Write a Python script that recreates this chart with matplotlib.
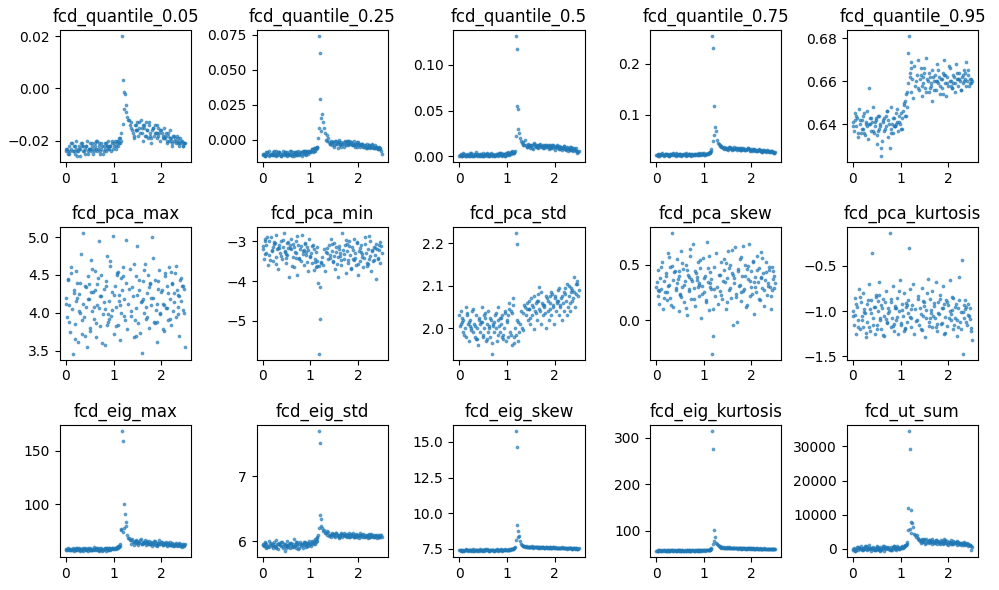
import matplotlib
matplotlib.use("Agg")
import matplotlib.pyplot as plt

# shared parameter sweep (x axis of every panel); second block = extra samples
x = [
    0.00, 0.03, 0.04, 0.07, 0.08, 0.11, 0.13, 0.14, 0.17, 0.19,
    0.21, 0.22, 0.25, 0.27, 0.29, 0.30, 0.33, 0.35, 0.36, 0.39,
    0.41, 0.43, 0.44, 0.47, 0.49, 0.51, 0.52, 0.55, 0.57, 0.59,
    0.60, 0.63, 0.65, 0.66, 0.69, 0.71, 0.73, 0.74, 0.77, 0.79,
    0.81, 0.82, 0.85, 0.87, 0.89, 0.90, 0.93, 0.95, 0.97, 0.99,
    1.01, 1.03, 1.05, 1.07, 1.09, 1.11, 1.13, 1.15, 1.16, 1.18,
    1.20, 1.21, 1.23, 1.25, 1.27, 1.29, 1.31, 1.34, 1.37, 1.39,
    1.41, 1.43, 1.46, 1.48, 1.50, 1.52, 1.54, 1.57, 1.59, 1.61,
    1.63, 1.65, 1.67, 1.70, 1.72, 1.74, 1.76, 1.78, 1.81, 1.83,
    1.85, 1.87, 1.89, 1.92, 1.94, 1.96, 1.98, 2.00, 2.03, 2.05,
    2.07, 2.09, 2.11, 2.14, 2.16, 2.18, 2.20, 2.22, 2.25, 2.27,
    2.29, 2.31, 2.33, 2.36, 2.38, 2.40, 2.42, 2.44, 2.47, 2.50,
    0.01, 0.06, 0.10, 0.16, 0.20, 0.24, 0.28, 0.32, 0.38, 0.42,
    0.46, 0.50, 0.54, 0.58, 0.62, 0.64, 0.68, 0.72, 0.76, 0.80,
    0.84, 0.88, 0.92, 0.96, 1.00, 1.04, 1.08, 1.12, 0.05, 0.34,
    0.53, 0.70, 0.91, 1.10, 0.23, 0.48, 0.86, 1.14, 1.19, 1.22,
    1.33, 1.36, 1.42, 1.45, 1.49, 1.53, 1.56, 1.60, 1.64, 1.68,
    1.71, 1.75, 1.79, 1.82, 1.86, 1.90, 1.93, 1.97, 2.01, 2.04,
    2.08, 2.12, 2.15, 2.19, 2.23, 2.26, 2.30, 2.34, 2.37, 2.41,
    2.45, 2.48, 1.47, 1.62, 1.77, 1.91, 2.06, 2.21, 2.35, 2.46,
]

fcd_quantile_005 = [
    -0.024, -0.023, -0.025, -0.022, -0.024, -0.023, -0.021, -0.024, -0.022, -0.025,
    -0.023, -0.020, -0.024, -0.022, -0.026, -0.023, -0.021, -0.024, -0.022, -0.023,
    -0.025, -0.022, -0.020, -0.024, -0.023, -0.021, -0.024, -0.022, -0.025, -0.023,
    -0.021, -0.023, -0.024, -0.020, -0.022, -0.024, -0.023, -0.021, -0.025, -0.022,
    -0.023, -0.021, -0.024, -0.022, -0.020, -0.023, -0.022, -0.024, -0.021, -0.023,
    -0.022, -0.020, -0.023, -0.021, -0.022, -0.019, -0.021, -0.017, -0.020, 0.020,
    0.0034, -0.0015, -0.002, -0.009, -0.0065, -0.011, -0.012, -0.014, -0.013, -0.016,
    -0.017, -0.019, -0.014, -0.016, -0.013, -0.018, -0.015, -0.012, -0.017, -0.020,
    -0.015, -0.018, -0.013, -0.016, -0.019, -0.014, -0.017, -0.021, -0.016, -0.015,
    -0.018, -0.014, -0.017, -0.019, -0.015, -0.017, -0.020, -0.016, -0.018, -0.015,
    -0.019, -0.017, -0.021, -0.018, -0.020, -0.016, -0.019, -0.022, -0.018, -0.020,
    -0.019, -0.021, -0.018, -0.020, -0.022, -0.019, -0.021, -0.020, -0.021, -0.021,
    -0.023, -0.025, -0.021, -0.024, -0.022, -0.026, -0.023, -0.021, -0.024, -0.022,
    -0.025, -0.023, -0.021, -0.024, -0.022, -0.020, -0.023, -0.025, -0.022, -0.024,
    -0.021, -0.023, -0.022, -0.020, -0.021, -0.022, -0.020, -0.021, -0.024, -0.022,
    -0.023, -0.021, -0.022, -0.020, -0.024, -0.023, -0.022, -0.019, -0.0136, -0.008,
    -0.012, -0.015, -0.018, -0.014, -0.016, -0.013, -0.017, -0.015, -0.014, -0.018,
    -0.016, -0.013, -0.019, -0.015, -0.017, -0.014, -0.018, -0.016, -0.017, -0.019,
    -0.018, -0.020, -0.017, -0.019, -0.021, -0.018, -0.020, -0.019, -0.021, -0.020,
    -0.022, -0.021, -0.016, -0.014, -0.018, -0.017, -0.019, -0.020, -0.021, -0.022,
]

fcd_quantile_025 = [
    -0.011, -0.010, -0.012, -0.009, -0.011, -0.010, -0.008, -0.012, -0.010, -0.011,
    -0.009, -0.011, -0.010, -0.012, -0.008, -0.010, -0.011, -0.009, -0.010, -0.012,
    -0.010, -0.008, -0.011, -0.009, -0.010, -0.012, -0.009, -0.011, -0.010, -0.008,
    -0.011, -0.009, -0.010, -0.012, -0.009, -0.011, -0.010, -0.008, -0.011, -0.009,
    -0.010, -0.012, -0.009, -0.010, -0.008, -0.011, -0.009, -0.010, -0.008, -0.009,
    -0.008, -0.007, -0.009, -0.006, -0.008, -0.007, -0.006, -0.005, 0.001, 0.074,
    0.0617, 0.029, 0.0156, 0.0185, 0.0127, 0.0084, 0.0048, 0.003, 0.001, -0.002,
    -0.003, -0.001, -0.004, -0.002, -0.005, -0.001, -0.003, -0.006, -0.002, 0.000,
    -0.004, -0.002, -0.003, -0.005, -0.001, -0.003, -0.002, -0.004, -0.001, -0.003,
    -0.002, -0.004, -0.003, -0.001, -0.005, -0.003, -0.002, -0.004, -0.003, -0.005,
    -0.004, -0.003, -0.005, -0.004, -0.006, -0.003, -0.005, -0.004, -0.006, -0.005,
    -0.004, -0.006, -0.005, -0.004, -0.006, -0.005, -0.007, -0.005, -0.007, -0.010,
    -0.010, -0.012, -0.009, -0.011, -0.010, -0.008, -0.011, -0.009, -0.012, -0.010,
    -0.009, -0.011, -0.010, -0.008, -0.012, -0.010, -0.009, -0.011, -0.010, -0.009,
    -0.008, -0.010, -0.009, -0.008, -0.009, -0.007, -0.008, -0.006, -0.011, -0.009,
    -0.010, -0.009, -0.008, -0.006, -0.011, -0.010, -0.008, -0.005, 0.008, 0.006,
    0.000, -0.001, -0.003, -0.002, -0.004, -0.001, -0.003, -0.002, -0.005, -0.003,
    -0.002, -0.004, -0.001, -0.003, -0.002, -0.004, -0.003, -0.005, -0.002, -0.004,
    -0.003, -0.005, -0.004, -0.006, -0.004, -0.005, -0.003, -0.006, -0.005, -0.007,
    -0.006, -0.008, -0.002, -0.003, -0.001, -0.004, -0.003, -0.005, -0.006, -0.006,
]

fcd_quantile_05 = [
    0.001, 0.003, 0.000, 0.002, 0.004, 0.001, 0.002, 0.000, 0.003, 0.002,
    0.001, 0.004, 0.002, 0.000, 0.003, 0.001, 0.002, 0.005, 0.001, 0.003,
    0.002, 0.000, 0.003, 0.001, 0.004, 0.002, 0.001, 0.003, 0.000, 0.002,
    0.003, 0.001, 0.002, 0.004, 0.001, 0.003, 0.002, 0.000, 0.002, 0.003,
    0.001, 0.003, 0.002, 0.004, 0.001, 0.002, 0.003, 0.001, 0.004, 0.002,
    0.003, 0.005, 0.002, 0.004, 0.003, 0.006, 0.004, 0.004, 0.006, 0.131,
    0.117, 0.055, 0.052, 0.025, 0.020, 0.017, 0.015, 0.012, 0.018, 0.013,
    0.010, 0.014, 0.011, 0.009, 0.013, 0.012, 0.008, 0.015, 0.011, 0.010,
    0.013, 0.009, 0.012, 0.014, 0.010, 0.011, 0.013, 0.009, 0.012, 0.010,
    0.011, 0.008, 0.012, 0.010, 0.013, 0.009, 0.011, 0.007, 0.010, 0.012,
    0.009, 0.011, 0.008, 0.010, 0.007, 0.009, 0.011, 0.008, 0.010, 0.006,
    0.008, 0.010, 0.007, 0.009, 0.006, 0.008, 0.007, 0.009, 0.004, 0.006,
    0.002, 0.001, 0.003, 0.000, 0.002, 0.004, 0.001, 0.003, 0.002, 0.000,
    0.003, 0.001, 0.002, 0.004, 0.001, 0.003, 0.002, 0.001, 0.003, 0.002,
    0.004, 0.002, 0.003, 0.001, 0.004, 0.003, 0.005, 0.004, 0.001, 0.002,
    0.003, 0.002, 0.003, 0.005, 0.001, 0.002, 0.004, 0.005, 0.022, 0.030,
    0.016, 0.012, 0.010, 0.013, 0.011, 0.009, 0.014, 0.012, 0.010, 0.013,
    0.011, 0.009, 0.012, 0.010, 0.013, 0.011, 0.009, 0.012, 0.010, 0.011,
    0.008, 0.010, 0.009, 0.011, 0.007, 0.009, 0.008, 0.010, 0.007, 0.009,
    0.006, 0.005, 0.012, 0.010, 0.011, 0.009, 0.010, 0.008, 0.007, 0.006,
]

fcd_quantile_075 = [
    0.020, 0.022, 0.019, 0.023, 0.021, 0.020, 0.024, 0.021, 0.019, 0.022,
    0.023, 0.020, 0.022, 0.018, 0.021, 0.023, 0.020, 0.022, 0.024, 0.021,
    0.019, 0.022, 0.021, 0.023, 0.020, 0.022, 0.019, 0.021, 0.023, 0.020,
    0.022, 0.024, 0.021, 0.020, 0.023, 0.021, 0.022, 0.019, 0.021, 0.023,
    0.020, 0.022, 0.021, 0.023, 0.024, 0.021, 0.022, 0.020, 0.023, 0.022,
    0.024, 0.021, 0.023, 0.022, 0.025, 0.024, 0.026, 0.028, 0.032, 0.254,
    0.231, 0.117, 0.076, 0.068, 0.050, 0.045, 0.042, 0.040, 0.038, 0.036,
    0.034, 0.037, 0.033, 0.035, 0.031, 0.036, 0.034, 0.032, 0.035, 0.033,
    0.036, 0.032, 0.034, 0.031, 0.035, 0.033, 0.030, 0.034, 0.032, 0.035,
    0.031, 0.033, 0.030, 0.034, 0.032, 0.029, 0.033, 0.031, 0.030, 0.032,
    0.029, 0.031, 0.028, 0.030, 0.032, 0.029, 0.031, 0.027, 0.030, 0.028,
    0.029, 0.027, 0.030, 0.028, 0.026, 0.029, 0.027, 0.028, 0.025, 0.027,
    0.021, 0.019, 0.022, 0.020, 0.023, 0.021, 0.019, 0.022, 0.020, 0.024,
    0.021, 0.023, 0.020, 0.022, 0.019, 0.021, 0.023, 0.020, 0.022, 0.021,
    0.023, 0.020, 0.022, 0.024, 0.021, 0.023, 0.022, 0.025, 0.020, 0.022,
    0.021, 0.023, 0.022, 0.024, 0.020, 0.021, 0.023, 0.027, 0.048, 0.060,
    0.039, 0.036, 0.033, 0.035, 0.032, 0.034, 0.036, 0.031, 0.033, 0.035,
    0.032, 0.034, 0.031, 0.033, 0.030, 0.032, 0.034, 0.031, 0.029, 0.032,
    0.030, 0.028, 0.031, 0.029, 0.027, 0.030, 0.028, 0.029, 0.026, 0.028,
    0.027, 0.025, 0.035, 0.033, 0.031, 0.032, 0.030, 0.029, 0.028, 0.026,
]

fcd_quantile_095 = [
    0.641, 0.637, 0.645, 0.639, 0.643, 0.634, 0.647, 0.640, 0.636, 0.642,
    0.638, 0.644, 0.635, 0.641, 0.639, 0.646, 0.657, 0.640, 0.643, 0.637,
    0.641, 0.648, 0.636, 0.639, 0.642, 0.631, 0.644, 0.638, 0.640, 0.629,
    0.625, 0.641, 0.637, 0.643, 0.639, 0.646, 0.634, 0.642, 0.629, 0.638,
    0.648, 0.640, 0.636, 0.643, 0.639, 0.645, 0.641, 0.637, 0.644, 0.640,
    0.638, 0.643, 0.646, 0.650, 0.644, 0.654, 0.648, 0.673, 0.659, 0.681,
    0.664, 0.669, 0.655, 0.661, 0.652, 0.667, 0.658, 0.663, 0.670, 0.656,
    0.661, 0.666, 0.653, 0.659, 0.664, 0.657, 0.671, 0.660, 0.655, 0.662,
    0.658, 0.665, 0.651, 0.660, 0.663, 0.656, 0.668, 0.659, 0.662, 0.654,
    0.661, 0.657, 0.664, 0.670, 0.659, 0.653, 0.662, 0.658, 0.666, 0.660,
    0.657, 0.663, 0.659, 0.655, 0.668, 0.661, 0.658, 0.664, 0.660, 0.656,
    0.662, 0.659, 0.665, 0.661, 0.669, 0.660, 0.663, 0.658, 0.661, 0.660,
    0.639, 0.644, 0.636, 0.642, 0.638, 0.645, 0.640, 0.633, 0.643, 0.637,
    0.641, 0.635, 0.644, 0.639, 0.632, 0.642, 0.638, 0.646, 0.640, 0.636,
    0.643, 0.639, 0.647, 0.641, 0.645, 0.638, 0.649, 0.644, 0.642, 0.640,
    0.637, 0.644, 0.640, 0.651, 0.636, 0.643, 0.639, 0.655, 0.662, 0.666,
    0.660, 0.657, 0.663, 0.658, 0.666, 0.655, 0.661, 0.664, 0.659, 0.662,
    0.656, 0.660, 0.665, 0.658, 0.661, 0.654, 0.663, 0.659, 0.667, 0.660,
    0.657, 0.662, 0.659, 0.664, 0.661, 0.656, 0.663, 0.660, 0.658, 0.665,
    0.661, 0.659, 0.662, 0.657, 0.660, 0.663, 0.658, 0.661, 0.664, 0.659,
]

fcd_pca_max = [
    4.20, 3.95, 4.45, 4.10, 3.75, 4.60, 4.05, 3.46, 4.30, 3.85,
    4.15, 4.55, 3.62, 4.25, 4.00, 4.40, 3.90, 5.05, 4.12, 3.70,
    4.35, 4.08, 3.55, 4.48, 4.18, 3.80, 4.70, 4.02, 4.27, 3.92,
    4.55, 3.68, 4.38, 4.10, 4.95, 3.82, 4.22, 4.50, 3.98, 4.32,
    4.05, 3.58, 4.42, 4.75, 3.88, 4.16, 4.62, 3.96, 4.28, 5.02,
    3.72, 4.36, 4.08, 4.52, 3.84, 4.24, 3.64, 4.46, 4.00, 4.30,
    4.60, 4.18, 3.90, 4.96, 4.40, 3.78, 4.12, 4.58, 3.96, 4.34,
    4.22, 3.68, 4.48, 4.06, 4.88, 3.86, 4.30, 4.14, 3.47, 4.42,
    4.00, 4.65, 3.92, 4.26, 4.50, 3.80, 4.38, 4.10, 5.00, 4.20,
    3.88, 4.44, 4.04, 3.62, 4.32, 4.56, 3.98, 4.28, 4.12, 3.76,
    4.48, 4.06, 4.36, 3.90, 4.60, 4.18, 3.84, 4.40, 4.02, 4.26,
    4.52, 3.94, 4.30, 4.08, 3.70, 4.44, 4.16, 4.36, 4.00, 3.55,
    4.12, 3.88, 4.52, 4.26, 3.66, 4.40, 4.02, 4.78, 3.94, 4.34,
    4.18, 3.76, 4.58, 4.08, 4.30, 3.86, 4.46, 4.22, 3.60, 4.14,
    4.36, 3.98, 4.68, 4.04, 4.24, 3.82, 4.50, 4.16, 4.44, 3.72,
    4.28, 4.06, 3.92, 4.54, 4.20, 4.38, 3.84, 4.10, 4.48, 3.96,
    4.32, 4.02, 4.64, 3.90, 4.24, 4.44, 3.74, 4.16, 4.56, 4.08,
    3.94, 4.34, 4.20, 4.72, 3.86, 4.12, 4.42, 4.00, 4.30, 3.78,
    4.52, 4.06, 4.26, 3.92, 4.38, 4.14, 4.62, 3.98, 4.22, 4.46,
    4.04, 4.32, 3.70, 4.18, 4.40, 3.88, 4.10, 4.54, 4.24, 4.36,
]

fcd_pca_min = [
    -3.20, -3.45, -2.95, -3.30, -3.10, -3.60, -3.00, -3.35, -2.90, -3.25,
    -3.15, -3.50, -3.05, -3.40, -2.85, -3.20, -3.70, -3.10, -3.30, -3.00,
    -3.45, -3.15, -2.80, -3.25, -3.55, -3.05, -3.35, -3.90, -3.10, -3.20,
    -2.95, -3.40, -3.15, -3.65, -3.00, -3.30, -3.85, -3.10, -3.45, -3.20,
    -3.50, -2.85, -3.25, -3.60, -3.05, -3.35, -3.15, -3.75, -2.95, -3.40,
    -3.30, -3.55, -3.10, -3.20, -3.45, -3.65, -3.15, -3.50, -4.05, -5.83,
    -4.95, -4.15, -3.55, -3.40, -3.60, -3.20, -3.75, -3.30, -3.45, -3.10,
    -3.35, -2.95, -3.25, -3.50, -3.05, -3.70, -3.15, -3.90, -3.40, -3.20,
    -3.30, -3.60, -2.80, -3.45, -3.10, -3.80, -3.25, -3.55, -3.00, -3.35,
    -3.70, -3.15, -3.45, -2.95, -3.30, -3.60, -3.05, -3.85, -3.25, -3.50,
    -3.10, -3.40, -3.65, -2.90, -3.30, -3.55, -3.20, -3.45, -3.00, -3.75,
    -3.25, -3.50, -3.15, -3.35, -3.95, -3.20, -3.45, -3.10, -3.55, -3.30,
    -3.12, -3.32, -2.88, -3.47, -3.22, -3.03, -3.57, -3.17, -3.37, -2.97,
    -3.27, -3.42, -3.02, -3.18, -3.62, -3.08, -3.28, -2.87, -3.43, -3.13,
    -3.33, -3.07, -3.52, -3.23, -3.38, -3.12, -3.72, -3.28, -2.98, -3.18,
    -3.17, -3.43, -3.27, -3.53, -3.07, -3.33, -3.22, -3.62, -3.62, -3.52,
    -3.28, -3.17, -3.43, -3.07, -3.38, -3.27, -3.58, -3.12, -3.48, -3.22,
    -3.33, -2.97, -3.47, -3.13, -3.67, -3.23, -3.42, -3.02, -3.57, -3.18,
    -3.32, -3.43, -3.08, -3.62, -2.87, -3.37, -3.22, -3.48, -3.07, -3.42,
    -3.23, -3.13, -3.52, -3.37, -3.08, -3.47, -3.27, -3.58, -3.18, -3.03,
]

fcd_pca_std = [
    2.03, 2.01, 2.04, 1.99, 2.02, 2.00, 2.05, 1.98, 2.03, 2.01,
    1.97, 2.02, 2.00, 2.04, 1.99, 2.01, 1.98, 2.03, 2.00, 1.96,
    2.02, 1.99, 2.01, 2.05, 1.98, 2.00, 2.03, 1.97, 2.01, 1.99,
    2.04, 2.00, 1.98, 2.02, 1.94, 2.01, 1.99, 2.03, 2.00, 1.97,
    2.02, 2.05, 1.99, 2.01, 2.03, 1.98, 2.00, 2.04, 1.97, 2.02,
    1.98, 2.03, 2.06, 1.99, 2.04, 1.96, 2.07, 1.98, 2.00, 2.223,
    2.198, 2.02, 1.97, 1.99, 2.01, 2.04, 2.00, 1.995, 2.05, 2.03,
    2.06, 2.02, 2.045, 2.01, 2.07, 2.03, 2.05, 1.998, 2.04, 2.06,
    2.02, 2.08, 2.098, 2.04, 2.01, 2.06, 2.03, 2.05, 2.00, 2.07,
    2.04, 2.02, 2.06, 2.03, 2.08, 2.05, 2.01, 2.07, 2.04, 2.06,
    2.09, 2.03, 2.05, 2.07, 2.02, 2.06, 2.04, 2.08, 2.03, 2.05,
    2.10, 2.06, 2.04, 2.09, 2.07, 2.12, 2.05, 2.08, 2.11, 2.09,
    2.005, 2.025, 1.985, 2.035, 2.015, 1.995, 2.045, 2.005, 1.975, 2.025,
    2.015, 1.985, 2.035, 1.975, 2.005, 2.025, 1.965, 2.015, 2.035, 1.985,
    2.005, 2.025, 1.975, 2.035, 2.015, 2.045, 1.985, 2.055, 2.015, 1.975,
    2.025, 2.005, 1.985, 2.035, 2.005, 2.015, 2.025, 1.965, 1.985, 2.015,
    2.035, 2.055, 2.045, 2.065, 2.025, 2.055, 2.075, 2.035, 2.065, 2.045,
    2.085, 2.055, 2.035, 2.075, 2.065, 2.045, 2.085, 2.055, 2.075, 2.065,
    2.095, 2.055, 2.075, 2.085, 2.065, 2.105, 2.075, 2.095, 2.065, 2.085,
    2.105, 2.075, 2.045, 2.065, 2.055, 2.075, 2.065, 2.095, 2.085, 2.105,
]

fcd_pca_skew = [
    0.30, 0.22, 0.45, 0.15, 0.38, 0.28, 0.52, 0.10, 0.35, 0.25,
    0.42, 0.18, 0.60, 0.32, 0.48, 0.20, 0.78, 0.36, 0.12, 0.44,
    0.27, 0.55, 0.33, 0.08, 0.40, 0.24, 0.62, 0.30, 0.46, 0.16,
    0.35, 0.50, 0.05, 0.41, 0.26, 0.58, 0.19, 0.37, 0.68, 0.29,
    0.44, 0.13, 0.39, 0.52, 0.22, 0.33, 0.47, 0.02, 0.31, 0.56,
    0.25, 0.40, 0.18, 0.70, 0.34, 0.09, 0.43, 0.28, 0.37, -0.30,
    -0.14, 0.48, 0.22, 0.60, 0.30, 0.15, 0.41, 0.26, 0.52, 0.19,
    0.35, 0.45, 0.10, 0.38, 0.62, 0.27, 0.50, 0.20, 0.42, -0.04,
    0.33, 0.66, 0.24, -0.02, 0.46, 0.31, 0.55, 0.17, 0.40, 0.67,
    0.28, 0.50, 0.12, 0.37, 0.68, 0.22, 0.44, 0.30, 0.53, 0.06,
    0.39, 0.25, 0.58, 0.34, 0.47, 0.18, 0.61, 0.29, 0.42, 0.13,
    0.36, 0.52, 0.23, 0.45, 0.30, 0.10, 0.48, 0.27, 0.40, 0.33,
    0.34, 0.26, 0.48, 0.20, 0.40, 0.31, 0.57, 0.14, 0.43, 0.29,
    0.37, 0.23, 0.51, 0.32, 0.11, 0.45, 0.28, 0.64, 0.35, 0.19,
    0.42, 0.30, 0.54, 0.24, 0.38, 0.16, 0.47, 0.33, 0.27, 0.49,
    0.21, 0.39, 0.32, 0.58, 0.25, 0.44, 0.36, 0.30, 0.10, 0.28,
    0.41, 0.23, 0.55, 0.34, 0.16, 0.47, 0.29, 0.63, 0.38, 0.21,
    0.44, 0.32, 0.57, 0.26, 0.40, 0.14, 0.49, 0.35, 0.24, 0.52,
    0.30, 0.45, 0.19, 0.39, 0.56, 0.27, 0.43, 0.33, 0.48, 0.22,
    0.37, 0.29, 0.51, 0.41, 0.25, 0.46, 0.34, 0.38, 0.31, 0.44,
]

fcd_pca_kurtosis = [
    -1.00, -1.15, -0.85, -1.25, -0.95, -1.10, -0.75, -1.20, -0.90, -1.05,
    -1.18, -0.80, -1.02, -1.28, -0.92, -1.12, -0.70, -0.98, -1.22, -0.88,
    -0.36, -1.08, -0.95, -1.25, -0.82, -1.15, -1.00, -0.68, -1.10, -0.93,
    -1.20, -0.87, -1.05, -1.27, -0.78, -1.13, -0.96, -1.02, -0.14, -1.18,
    -0.90, -1.08, -0.72, -1.22, -0.97, -1.10, -0.85, -1.25, -1.00, -0.66,
    -1.15, -0.92, -1.05, -0.80, -1.20, -0.95, -1.12, -0.88, -1.02, -0.30,
    -0.76, -1.08, -1.18, -0.93, -0.70, -1.25, -0.98, -1.10, -0.83, -1.15,
    -0.96, -1.20, -0.74, -1.05, -0.90, -1.28, -0.99, -0.64, -1.12, -0.87,
    -1.02, -0.78, -1.18, -0.94, -1.08, -0.68, -1.22, -0.90, -1.03, -0.82,
    -1.14, -0.97, -0.72, -1.25, -1.06, -0.88, -1.16, -0.93, -0.66, -1.10,
    -0.99, -1.20, -0.85, -1.07, -0.92, -1.27, -0.96, -0.62, -1.12, -1.01,
    -0.43, -1.47, -1.08, -0.88, -0.95, -1.15, -0.92, -1.05, -1.22, -1.32,
    -1.05, -0.92, -1.18, -0.84, -1.10, -0.98, -1.24, -0.88, -1.02, -1.15,
    -0.95, -1.20, -0.82, -1.08, -0.97, -1.26, -0.90, -1.12, -1.00, -0.86,
    -1.16, -0.94, -1.06, -0.78, -1.13, -0.99, -1.22, -0.91, -1.04, -1.17,
    -0.89, -1.09, -0.96, -1.19, -1.01, -0.84, -1.14, -0.93, -1.06, -0.98,
    -1.11, -0.87, -1.03, -1.21, -0.94, -1.08, -0.80, -1.16, -0.99, -1.05,
    -0.91, -1.18, -1.02, -0.86, -1.13, -0.97, -1.24, -0.90, -1.07, -1.00,
    -0.84, -1.15, -0.95, -1.10, -0.88, -1.20, -1.01, -0.93, -1.12, -1.04,
    -0.96, -1.19, -0.89, -1.07, -1.14, -0.92, -1.03, -1.17, -0.98, -1.09,
]

fcd_eig_max = [
    58.0, 57.2, 58.8, 57.5, 56.8, 58.3, 57.0, 59.0, 56.5, 57.8,
    58.5, 56.9, 57.6, 59.2, 56.3, 58.1, 57.4, 58.7, 56.6, 57.9,
    59.3, 57.1, 58.4, 56.2, 57.7, 58.9, 56.7, 58.2, 57.3, 59.5,
    56.8, 58.0, 57.2, 58.6, 56.4, 57.5, 59.1, 57.9, 56.9, 58.3,
    57.6, 59.0, 56.6, 58.2, 57.3, 58.8, 57.0, 58.4, 59.3, 57.8,
    58.6, 59.4, 58.0, 60.1, 59.2, 60.8, 62.5, 76.4, 76.0, 169.0,
    159.0, 100.0, 91.0, 83.0, 80.0, 71.0, 68.0, 66.0, 63.0, 67.0,
    64.5, 62.2, 66.0, 63.5, 65.3, 61.8, 64.0, 67.2, 62.8, 65.0,
    63.2, 66.5, 61.5, 64.8, 63.0, 65.6, 62.4, 64.2, 60.8, 63.7,
    65.2, 62.0, 64.0, 61.2, 63.5, 66.0, 62.6, 64.4, 61.8, 63.0,
    62.5, 64.6, 61.0, 63.3, 62.0, 65.0, 61.6, 63.8, 60.6, 62.8,
    61.5, 63.6, 60.4, 62.2, 64.0, 61.2, 62.6, 60.0, 61.8, 62.4,
    57.5, 58.4, 56.9, 58.0, 57.3, 58.7, 56.7, 57.9, 58.2, 57.1,
    58.6, 57.4, 56.8, 58.1, 57.6, 58.9, 57.2, 58.3, 56.6, 57.8,
    58.5, 57.0, 58.2, 59.0, 58.4, 59.3, 58.8, 60.0, 57.7, 58.1,
    57.3, 58.6, 58.9, 60.4, 57.5, 58.0, 58.7, 61.0, 74.0, 78.0,
    68.5, 66.8, 64.3, 65.8, 63.2, 64.9, 66.4, 62.9, 64.6, 63.4,
    65.5, 62.4, 64.1, 63.0, 65.2, 61.9, 63.8, 62.6, 64.5, 61.7,
    63.4, 62.1, 64.0, 61.5, 62.9, 60.9, 63.1, 61.8, 62.4, 61.2,
    62.7, 60.5, 65.0, 63.9, 62.8, 62.2, 63.6, 61.4, 62.0, 61.6,
]

fcd_eig_std = [
    5.95, 5.92, 5.98, 5.90, 5.96, 5.93, 6.00, 5.91, 5.97, 5.94,
    5.89, 5.96, 5.93, 6.02, 5.91, 5.95, 5.88, 5.97, 5.94, 5.92,
    5.98, 5.90, 5.95, 5.85, 5.93, 6.00, 5.92, 5.96, 5.89, 5.94,
    5.97, 5.91, 6.03, 5.93, 5.90, 5.96, 5.94, 5.88, 5.95, 5.99,
    5.92, 5.96, 5.90, 5.98, 5.94, 5.91, 5.97, 5.93, 6.00, 5.95,
    5.93, 5.98, 5.96, 6.01, 5.95, 5.99, 6.05, 6.00, 6.09, 7.70,
    7.51, 6.40, 6.34, 6.21, 6.15, 6.17, 6.12, 6.10, 6.14, 6.08,
    6.10, 6.07, 6.12, 6.09, 6.11, 6.06, 6.13, 6.08, 6.10, 6.05,
    6.09, 6.12, 6.07, 6.10, 6.08, 6.11, 6.06, 6.09, 6.13, 6.07,
    6.10, 6.08, 6.12, 6.06, 6.09, 6.11, 6.07, 6.10, 6.05, 6.08,
    6.09, 6.07, 6.11, 6.06, 6.08, 6.10, 6.05, 6.09, 6.07, 6.11,
    6.08, 6.06, 6.10, 6.07, 6.09, 6.05, 6.08, 6.06, 6.10, 6.07,
    5.94, 5.97, 5.91, 5.96, 5.93, 5.99, 5.90, 5.95, 5.98, 5.92,
    5.96, 5.89, 5.94, 5.97, 5.91, 5.95, 5.93, 5.98, 5.90, 5.96,
    5.94, 5.99, 5.92, 5.97, 5.95, 6.00, 5.97, 6.02, 5.93, 5.96,
    5.91, 5.98, 5.95, 6.04, 5.92, 5.94, 5.97, 6.06, 6.20, 6.24,
    6.12, 6.15, 6.09, 6.11, 6.08, 6.12, 6.10, 6.07, 6.11, 6.09,
    6.12, 6.08, 6.10, 6.06, 6.11, 6.09, 6.07, 6.10, 6.08, 6.12,
    6.09, 6.06, 6.10, 6.08, 6.11, 6.07, 6.09, 6.06, 6.08, 6.10,
    6.07, 6.09, 6.11, 6.08, 6.10, 6.07, 6.09, 6.06, 6.08, 6.07,
]

fcd_eig_skew = [
    7.42, 7.38, 7.45, 7.40, 7.36, 7.43, 7.39, 7.47, 7.41, 7.37,
    7.44, 7.40, 7.35, 7.42, 7.46, 7.38, 7.41, 7.43, 7.37, 7.45,
    7.39, 7.42, 7.48, 7.36, 7.41, 7.44, 7.38, 7.40, 7.46, 7.39,
    7.43, 7.37, 7.41, 7.45, 7.39, 7.42, 7.36, 7.44, 7.40, 7.47,
    7.38, 7.43, 7.40, 7.46, 7.41, 7.37, 7.44, 7.42, 7.39, 7.45,
    7.41, 7.44, 7.47, 7.43, 7.49, 7.46, 7.52, 7.55, 7.60, 15.80,
    14.65, 9.20, 8.75, 8.40, 8.05, 7.85, 7.75, 7.70, 7.65, 7.68,
    7.62, 7.66, 7.60, 7.64, 7.61, 7.67, 7.59, 7.63, 7.65, 7.60,
    7.62, 7.58, 7.64, 7.61, 7.57, 7.63, 7.60, 7.59, 7.62, 7.56,
    7.60, 7.57, 7.61, 7.58, 7.55, 7.60, 7.57, 7.62, 7.56, 7.59,
    7.55, 7.58, 7.54, 7.57, 7.60, 7.53, 7.56, 7.58, 7.52, 7.55,
    7.57, 7.53, 7.56, 7.52, 7.55, 7.58, 7.51, 7.54, 7.50, 7.53,
    7.40, 7.44, 7.37, 7.42, 7.39, 7.45, 7.38, 7.41, 7.43, 7.36,
    7.42, 7.39, 7.46, 7.40, 7.37, 7.44, 7.41, 7.38, 7.43, 7.40,
    7.45, 7.39, 7.42, 7.46, 7.41, 7.44, 7.48, 7.50, 7.38, 7.42,
    7.40, 7.43, 7.45, 7.51, 7.39, 7.41, 7.44, 7.53, 8.10, 8.30,
    7.72, 7.68, 7.63, 7.65, 7.61, 7.64, 7.60, 7.66, 7.62, 7.59,
    7.63, 7.60, 7.58, 7.62, 7.59, 7.61, 7.57, 7.60, 7.58, 7.56,
    7.59, 7.55, 7.57, 7.54, 7.58, 7.53, 7.56, 7.54, 7.52, 7.55,
    7.53, 7.51, 7.64, 7.61, 7.59, 7.57, 7.58, 7.55, 7.54, 7.52,
]

fcd_eig_kurtosis = [
    57.0, 56.4, 57.6, 56.8, 57.3, 56.2, 57.8, 56.9, 57.4, 56.6,
    57.2, 56.5, 57.9, 56.7, 57.1, 56.3, 57.5, 57.0, 56.8, 57.7,
    56.4, 57.3, 56.9, 57.6, 56.1, 57.2, 56.7, 57.4, 56.5, 57.0,
    57.8, 56.6, 57.1, 56.3, 57.5, 56.9, 57.3, 56.2, 57.6, 56.8,
    57.0, 57.4, 56.5, 57.2, 56.7, 57.9, 56.4, 57.1, 56.8, 57.5,
    57.3, 56.9, 57.6, 58.0, 57.4, 58.3, 58.8, 60.0, 63.0, 315.0,
    276.0, 101.0, 87.0, 74.0, 72.0, 68.0, 66.0, 64.5, 63.5, 65.0,
    62.5, 63.8, 61.9, 63.0, 62.2, 64.0, 61.6, 62.8, 63.4, 61.8,
    62.6, 61.4, 63.2, 62.0, 61.2, 62.9, 61.7, 63.5, 61.0, 62.4,
    61.8, 62.7, 61.3, 62.2, 60.9, 62.0, 61.5, 60.7, 62.3, 61.1,
    60.8, 61.6, 60.4, 61.2, 60.6, 61.8, 60.2, 61.0, 60.5, 61.4,
    60.3, 60.9, 59.8, 60.6, 60.1, 60.8, 59.6, 60.4, 59.9, 60.2,
    56.9, 57.5, 56.5, 57.2, 56.8, 57.7, 56.3, 57.1, 57.4, 56.6,
    57.3, 56.7, 57.6, 56.9, 56.4, 57.2, 57.0, 56.6, 57.5, 56.8,
    57.1, 56.5, 57.4, 57.8, 57.2, 57.9, 58.3, 59.0, 56.7, 57.1,
    56.9, 57.5, 57.8, 58.6, 56.8, 57.2, 57.6, 60.5, 72.0, 78.0,
    66.0, 64.5, 63.2, 62.6, 63.8, 62.1, 63.0, 61.7, 62.9, 62.3,
    61.6, 62.8, 61.3, 62.4, 61.1, 62.0, 61.5, 62.3, 60.9, 61.7,
    60.8, 61.4, 60.6, 61.2, 60.4, 60.9, 60.2, 60.7, 59.9, 60.5,
    60.1, 59.7, 63.0, 62.2, 61.4, 61.0, 60.6, 60.3, 60.0, 59.8,
]

fcd_ut_sum = [
    -200, 300, -500, 100, 600, -300, 200, -100, 800, 0,
    400, -400, 700, 100, -200, 500, 1000, -100, 300, -600,
    200, 600, -300, 400, -100, 900, 100, -400, 500, 0,
    -200, 300, 700, -500, 200, 400, -100, 600, -300, 100,
    500, -200, 300, 800, 0, -300, 200, 600, 100, 400,
    300, 700, 200, 500, 900, 1100, 2100, 5480, 11930, 34600,
    29200, 11260, 7800, 7600, 6340, 4320, 4100, 3920, 3000, 2600,
    2200, 1600, 2800, 1900, 2500, 1400, 3000, 2100, 1700, 2600,
    2300, 1500, 2900, 2000, 1800, 2700, 1300, 2400, 2100, 1600,
    2500, 1900, 1400, 2800, 2200, 1700, 2400, 1200, 2000, 2600,
    1800, 1400, 2300, 1600, 2000, 1200, 1900, 1500, 1700, 1100,
    1600, 1300, 1900, 1000, 1500, 1700, 900, 1200, -300, 580,
    100, -300, 500, 200, -400, 300, 800, -100, 400, 0,
    -200, 600, 200, -500, 300, 700, -100, 400, 100, -300,
    500, 200, 900, 0, 600, 300, 800, 1200, -600, 200,
    -100, 500, 400, 1000, 100, -200, 700, 1300, 5900, 4700,
    3400, 3100, 2500, 2000, 2900, 1700, 2300, 2700, 1900, 2200,
    1600, 2500, 2000, 1400, 2300, 1800, 2600, 1500, 2100, 1700,
    1300, 1900, 1600, 2200, 1400, 1800, 1100, 1600, 1300, 1500,
    1000, 800, 2400, 2000, 2300, 1800, 1500, 1600, 1400, 1200,
]

titles = [
    "fcd_quantile_0.05", "fcd_quantile_0.25", "fcd_quantile_0.5",
    "fcd_quantile_0.75", "fcd_quantile_0.95",
    "fcd_pca_max", "fcd_pca_min", "fcd_pca_std", "fcd_pca_skew",
    "fcd_pca_kurtosis",
    "fcd_eig_max", "fcd_eig_std", "fcd_eig_skew", "fcd_eig_kurtosis",
    "fcd_ut_sum",
]
series = [
    fcd_quantile_005, fcd_quantile_025, fcd_quantile_05,
    fcd_quantile_075, fcd_quantile_095,
    fcd_pca_max, fcd_pca_min, fcd_pca_std, fcd_pca_skew, fcd_pca_kurtosis,
    fcd_eig_max, fcd_eig_std, fcd_eig_skew, fcd_eig_kurtosis, fcd_ut_sum,
]

fig, axes = plt.subplots(3, 5, figsize=(9.99, 5.9), dpi=100)
for ax, title, y in zip(axes.flat, titles, series):
    ax.scatter(x, y, s=3, alpha=0.6)
    ax.set_title(title)

fig.subplots_adjust(left=0.060, right=0.979, top=0.949, bottom=0.056,
                    wspace=0.50, hspace=0.49)
fig.savefig("out.png", dpi=100)
